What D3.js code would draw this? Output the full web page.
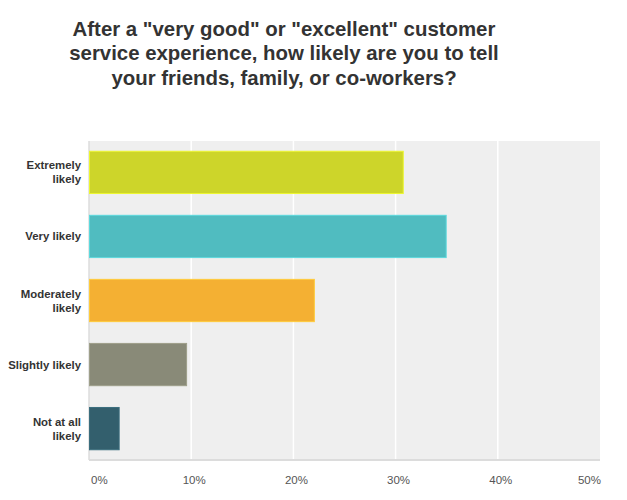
<!DOCTYPE html>
<html>
<head>
<meta charset="utf-8">
<script src="https://cdn.jsdelivr.net/npm/d3@7"></script>
<style>
  body { margin: 0; background: #fff; }
  text { font-family: "Liberation Sans", Arial, Helvetica, sans-serif; }
</style>
</head>
<body>
<div id="chart"></div>
<script>
var titleLines = [
  'After a "very good" or "excellent" customer',
  'service experience, how likely are you to tell',
  'your friends, family, or co-workers?'
];
var categories = ["Extremely likely", "Very likely", "Moderately likely", "Slightly likely", "Not at all likely"];
var labelLines = [["Extremely", "likely"], ["Very likely"], ["Moderately", "likely"], ["Slightly likely"], ["Not at all", "likely"]];
var values = [30.7, 34.9, 22.0, 9.5, 2.9];
var colors = ["#cdd52a", "#50bcc0", "#f4b033", "#898a78", "#335f6d"];
var ticks = [0, 10, 20, 30, 40, 50];

var W = 627, H = 500;
var plot = {left: 89, right: 600, top: 141, bottom: 460};

var svg = d3.select("#chart")
  .append("svg")
    .attr("width", W)
    .attr("height", H);

// Title
svg.append("g")
  .selectAll("text")
  .data(titleLines)
  .enter().append("text")
    .attr("x", 284)
    .attr("y", (d, i) => 36 + i * 24.3)
    .attr("text-anchor", "middle")
    .style("font-size", "20.4px")
    .style("font-weight", "bold")
    .style("fill", "#333")
    .text(d => d);

var x = d3.scaleLinear()
  .domain([0, 50])
  .range([plot.left, plot.right]);

var y = d3.scaleBand()
  .domain(categories)
  .range([plot.top, plot.bottom])
  .paddingInner(0.34)
  .paddingOuter(0.16);

// plot background
svg.append("rect")
  .attr("x", plot.left)
  .attr("y", plot.top)
  .attr("width", plot.right - plot.left)
  .attr("height", plot.bottom - plot.top)
  .attr("fill", "#efefef");

// gridlines
svg.append("g")
  .selectAll("line")
  .data(ticks.slice(1, -1))
  .enter().append("line")
    .attr("x1", d => x(d))
    .attr("x2", d => x(d))
    .attr("y1", plot.top)
    .attr("y2", plot.bottom)
    .attr("stroke", "#fff")
    .attr("stroke-width", 1.5);

// axis lines
svg.append("line")
  .attr("x1", plot.left).attr("x2", plot.left)
  .attr("y1", plot.top).attr("y2", plot.bottom)
  .attr("stroke", "#dcdcdc")
  .attr("stroke-width", 1.5);
svg.append("line")
  .attr("x1", plot.left).attr("x2", plot.right)
  .attr("y1", plot.bottom).attr("y2", plot.bottom)
  .attr("stroke", "#dcdcdc")
  .attr("stroke-width", 2);

// bars
svg.append("g")
  .selectAll("rect")
  .data(values)
  .enter().append("rect")
    .attr("x", x(0) + 0.5)
    .attr("y", (d, i) => y(categories[i]))
    .attr("width", d => x(d) - x(0))
    .attr("height", y.bandwidth())
    .attr("fill", (d, i) => colors[i])
    .attr("stroke", (d, i) => d3.color(colors[i]).brighter(0.4).formatHex())
    .attr("stroke-width", 1);

// category labels
var labels = svg.append("g")
  .selectAll("text")
  .data(categories)
  .enter().append("text")
    .attr("text-anchor", "end")
    .style("font-size", "11.4px")
    .style("font-weight", "bold")
    .style("fill", "#333");

labels.each(function(d, i) {
  var lines = labelLines[i];
  var cy = y(d) + y.bandwidth() / 2;
  d3.select(this).selectAll("tspan")
    .data(lines)
    .enter().append("tspan")
      .attr("x", 81)
      .attr("y", (l, j) => cy + 4 + (j - (lines.length - 1) / 2) * 14)
      .text(l => l);
});

// x tick labels
svg.append("g")
  .selectAll("text")
  .data(ticks)
  .enter().append("text")
    .attr("x", (d, i) => i === 0 ? x(d) + 2 : (i === ticks.length - 1 ? x(d) + 1 : x(d) + 3))
    .attr("y", 484)
    .attr("text-anchor", (d, i) => i === 0 ? "start" : (i === ticks.length - 1 ? "end" : "middle"))
    .style("font-size", "11.5px")
    .style("fill", "#555")
    .text(d => d + "%");
</script>
</body>
</html>
